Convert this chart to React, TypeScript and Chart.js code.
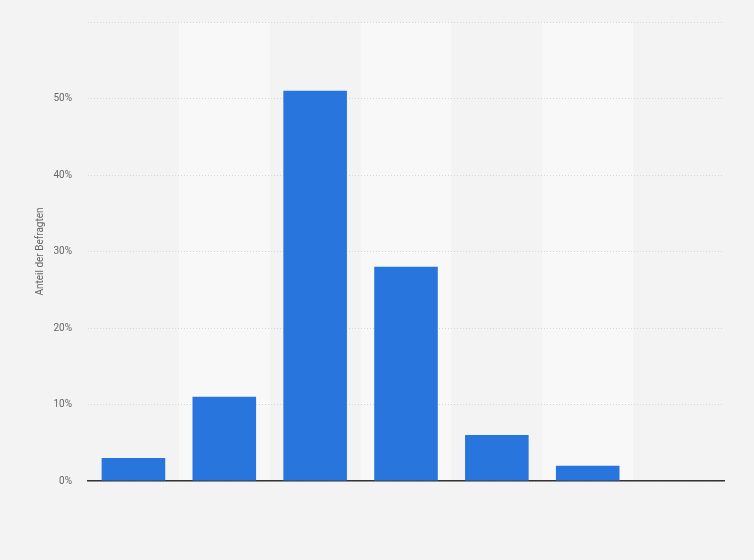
import { useEffect, useRef } from 'react';
import { Chart, registerables } from 'chart.js';
import type { Plugin } from 'chart.js';

Chart.register(...registerables);

// 7 answer categories (no labels shown on the axis)
const categories = ['1', '2', '3', '4', '5', '6', '7'];
const shares     = [3, 11, 51, 28, 6, 2, 0];
const yTicks     = [0, 10, 20, 30, 40, 50, 60];

// light vertical bands behind every second category, under grid and axis line
const bandPlugin: Plugin<'bar'> = {
  id: 'bands',
  beforeDraw(chart) {
    const { ctx, chartArea, scales } = chart;
    const x = scales.x;
    ctx.save();
    ctx.fillStyle = '#f8f8f8';
    categories.forEach((_, i) => {
      if (i % 2 === 0) return;
      const left  = (x.getPixelForTick(i - 1) + x.getPixelForTick(i)) / 2;
      const right = (x.getPixelForTick(i) + x.getPixelForTick(i + 1)) / 2;
      ctx.fillRect(left, chartArea.top, right - left, chartArea.bottom - chartArea.top);
    });
    ctx.restore();
  },
};

export default function App() {
  const canvasRef = useRef<HTMLCanvasElement>(null);

  useEffect(() => {
    document.body.style.margin = '0';
    document.body.style.background = '#f3f3f3';
    if (!canvasRef.current) return;

    const chart = new Chart(canvasRef.current, {
      type: 'bar',
      data: {
        labels: categories,
        datasets: [{
          data:            shares,
          backgroundColor: '#2876dd',
          borderWidth:     0,
          barPercentage:   0.7,
          categoryPercentage: 1,
        }],
      },
      options: {
        responsive:          false,
        animation:           false,
        layout: { padding: { left: 0, right: 30, top: 19, bottom: 0 } },
        plugins: {
          legend:  { display: false },
          tooltip: { enabled: false },
        },
        scales: {
          x: {
            ticks:  { display: false },
            grid:   { display: false },
            border: { display: true, color: '#333333', width: 1.5 },
            afterFit: s => { s.height = 79; },
          },
          y: {
            min: 0,
            max: 60,
            afterBuildTicks: s => { s.ticks = yTicks.map(v => ({ value: v })); },
            ticks: {
              color:   '#666666',
              font:    { family: 'Roboto', size: 10 },
              padding: 16,
              callback: v => (v === 60 ? '' : `${v}%`),
            },
            grid: {
              color:      '#d6d6d6',
              drawTicks:  false,
            },
            border: { display: false, dash: [1, 2] },
            title: {
              display: true,
              text:    'Anteil der Befragten',
              color:   '#666666',
              font:    { family: 'Roboto', size: 10 },
              padding: { top: 34, bottom: 0 },
            },
            afterFit: s => { s.width = 88; },
          },
        },
      },
      plugins: [bandPlugin],
    });

    return () => chart.destroy();
  }, []);

  return <canvas ref={canvasRef} width={754} height={560} style={{ display: 'block' }} />;
}
